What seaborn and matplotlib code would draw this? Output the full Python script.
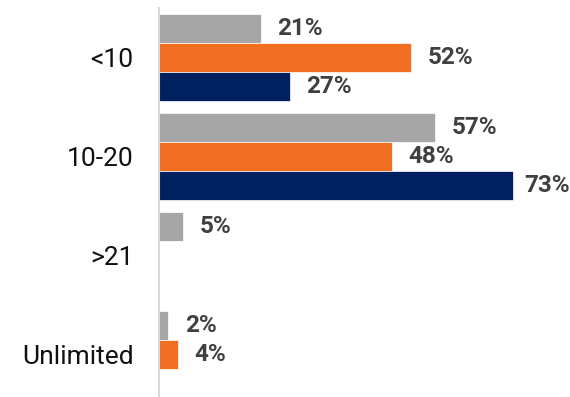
import matplotlib
matplotlib.use("Agg")
from matplotlib import pyplot as plt
import seaborn as sns
import pandas as pd
import numpy as np

categorias = ["<10", "10-20", ">21", "Unlimited"]
series = ["Series 1", "Series 2", "Series 3"]
valores_cinza = [21, 57, 5, 2]
valores_laranja = [52, 48, np.nan, 4]
valores_azul = [27, 73, np.nan, np.nan]
cores = ["#A6A6A6", "#F26E22", "#002060"]

dados = pd.DataFrame({
    "categoria": categorias * 3,
    "serie": [s for s in series for _ in categorias],
    "valor": valores_cinza + valores_laranja + valores_azul,
})

sns.set_style("white")
plt.rcParams["font.family"] = ["Roboto", "DejaVu Sans"]

fig = plt.figure(figsize=(5.7, 3.97), dpi=100)
ax = fig.add_axes([158.5 / 570, 0, 1 - 158.5 / 570, 389 / 397])

sns.barplot(data=dados, y="categoria", x="valor", hue="serie",
            order=categorias, hue_order=series, palette=cores,
            orient="h", width=0.88, legend=False, ax=ax,
            edgecolor="white", linewidth=0.5, saturation=1)

maior = np.nanmax(dados["valor"])

# labels on each bar
for container in ax.containers:
    for barra in container:
        w = barra.get_width()
        if np.isnan(w) or w <= 0:
            continue
        desloc = 8 if w == maior else 12
        ax.annotate(f"{w:.0f}%", (w, barra.get_y() + barra.get_height() / 2),
                    xytext=(desloc, 0), textcoords="offset points",
                    ha="left", va="center", fontsize=17.5, fontweight="bold",
                    color="#404040")

ax.set_xlim(0, 84.7)
ax.set_ylim(3.43, -0.5)
ax.set_xlabel("")
ax.set_ylabel("")
ax.set_xticks([])
for lado in ["top", "right", "bottom"]:
    ax.spines[lado].set_visible(False)
ax.spines["left"].set_color("#D9D9D9")
ax.spines["left"].set_linewidth(1.5)
ax.tick_params(axis="y", length=0, pad=18, labelsize=19, labelcolor="#111111")

fig.savefig("out.png", dpi=100)
plt.close()
